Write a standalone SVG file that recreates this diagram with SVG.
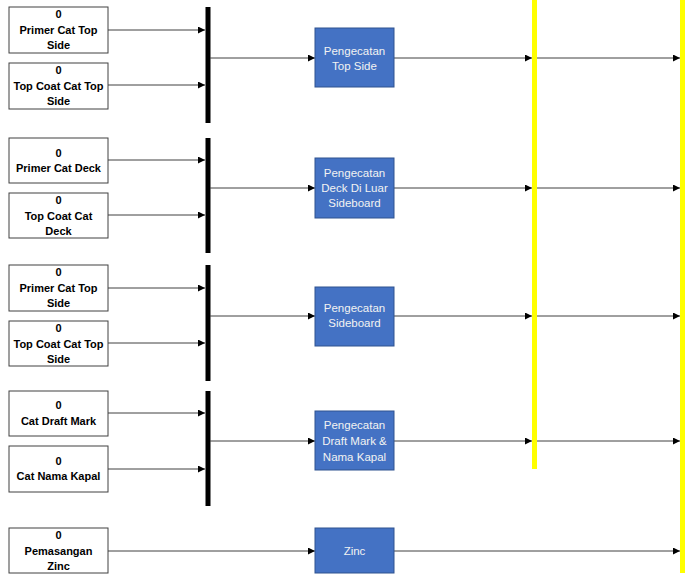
<svg xmlns="http://www.w3.org/2000/svg" width="691" height="583" viewBox="0 0 691 583">
<defs>
<style>
.box{fill:#fff;stroke:#404040;stroke-width:1}
.proc{fill:#4472C4;stroke:#2F528F;stroke-width:1}
.bar{fill:#000}
.yel{fill:#FFFF00}
.lt{font-family:"Liberation Sans",Arial,sans-serif;font-weight:bold;font-size:11px;fill:#000;text-anchor:middle}
.pt{font-family:"Liberation Sans",Arial,sans-serif;font-size:11.5px;fill:#F2F2F2;text-anchor:middle}
.con{stroke:#404040;stroke-width:1;fill:none;marker-end:url(#ah)}
</style>
<marker id="ah" viewBox="0 0 10 10" refX="10" refY="5" markerWidth="8" markerHeight="7" markerUnits="userSpaceOnUse" orient="auto">
<path d="M0,0 L10,5 L0,10 z" fill="#000"/>
</marker>
</defs>
<rect width="691" height="583" fill="#fff"/>

<g id="yellow-lines">
<rect class="yel" x="532" y="0" width="5" height="469"/>
<rect class="yel" x="680" y="0" width="5" height="573"/>
</g>

<g id="bars">
<rect class="bar" x="205.5" y="7" width="5" height="116"/>
<rect class="bar" x="205.5" y="138" width="5" height="115"/>
<rect class="bar" x="205.5" y="265" width="5" height="116"/>
<rect class="bar" x="205.5" y="391" width="5" height="115"/>
</g>

<g id="connectors">
<line class="con" x1="108" y1="30" x2="205" y2="30"/>
<line class="con" x1="108" y1="85" x2="205" y2="85"/>
<line class="con" x1="210" y1="58" x2="315" y2="58"/>
<line class="con" x1="394" y1="58" x2="532" y2="58"/>
<line class="con" x1="537" y1="58" x2="680" y2="58"/>

<line class="con" x1="108" y1="160" x2="205" y2="160"/>
<line class="con" x1="108" y1="215" x2="205" y2="215"/>
<line class="con" x1="210" y1="188" x2="315" y2="188"/>
<line class="con" x1="394" y1="188" x2="532" y2="188"/>
<line class="con" x1="537" y1="188" x2="680" y2="188"/>

<line class="con" x1="108" y1="288" x2="205" y2="288"/>
<line class="con" x1="108" y1="343" x2="205" y2="343"/>
<line class="con" x1="210" y1="316" x2="315" y2="316"/>
<line class="con" x1="394" y1="316" x2="532" y2="316"/>
<line class="con" x1="537" y1="316" x2="680" y2="316"/>

<line class="con" x1="108" y1="413" x2="205" y2="413"/>
<line class="con" x1="108" y1="469" x2="205" y2="469"/>
<line class="con" x1="210" y1="441" x2="315" y2="441"/>
<line class="con" x1="394" y1="441" x2="532" y2="441"/>
<line class="con" x1="537" y1="441" x2="680" y2="441"/>

<line class="con" x1="108" y1="551" x2="315" y2="551"/>
<line class="con" x1="394" y1="551" x2="680" y2="551"/>
</g>

<g id="n-primer-top-side-1">
<rect class="box" x="9" y="7" width="99" height="46"/>
<text class="lt" x="58.5" y="18">0</text>
<text class="lt" x="58.5" y="34">Primer Cat Top</text>
<text class="lt" x="58.5" y="49">Side</text>
</g>
<g id="n-topcoat-top-side-1">
<rect class="box" x="9" y="63" width="99" height="46"/>
<text class="lt" x="58.5" y="74">0</text>
<text class="lt" x="58.5" y="90">Top Coat Cat Top</text>
<text class="lt" x="58.5" y="105">Side</text>
</g>
<g id="n-primer-deck">
<rect class="box" x="9" y="138" width="99" height="45"/>
<text class="lt" x="58.5" y="157">0</text>
<text class="lt" x="58.5" y="172">Primer Cat Deck</text>
</g>
<g id="n-topcoat-deck">
<rect class="box" x="9" y="193" width="99" height="45"/>
<text class="lt" x="58.5" y="204">0</text>
<text class="lt" x="58.5" y="220">Top Coat Cat</text>
<text class="lt" x="58.5" y="235">Deck</text>
</g>
<g id="n-primer-top-side-2">
<rect class="box" x="9" y="265" width="99" height="46"/>
<text class="lt" x="58.5" y="276">0</text>
<text class="lt" x="58.5" y="292">Primer Cat Top</text>
<text class="lt" x="58.5" y="307">Side</text>
</g>
<g id="n-topcoat-top-side-2">
<rect class="box" x="9" y="321" width="99" height="45"/>
<text class="lt" x="58.5" y="332">0</text>
<text class="lt" x="58.5" y="348">Top Coat Cat Top</text>
<text class="lt" x="58.5" y="363">Side</text>
</g>
<g id="n-cat-draft-mark">
<rect class="box" x="9" y="391" width="99" height="45"/>
<text class="lt" x="58.5" y="409">0</text>
<text class="lt" x="58.5" y="425">Cat Draft Mark</text>
</g>
<g id="n-cat-nama-kapal">
<rect class="box" x="9" y="446" width="99" height="46"/>
<text class="lt" x="58.5" y="465">0</text>
<text class="lt" x="58.5" y="480">Cat Nama Kapal</text>
</g>
<g id="n-pemasangan-zinc">
<rect class="box" x="9" y="528" width="99" height="45"/>
<text class="lt" x="58.5" y="539">0</text>
<text class="lt" x="58.5" y="555">Pemasangan</text>
<text class="lt" x="58.5" y="570">Zinc</text>
</g>

<g id="p-top-side">
<rect class="proc" x="315" y="28" width="79" height="59"/>
<text class="pt" x="354.5" y="55">Pengecatan</text>
<text class="pt" x="354.5" y="70">Top Side</text>
</g>
<g id="p-deck">
<rect class="proc" x="315" y="158" width="79" height="60"/>
<text class="pt" x="354.5" y="177">Pengecatan</text>
<text class="pt" x="354.5" y="192">Deck Di Luar</text>
<text class="pt" x="354.5" y="207">Sideboard</text>
</g>
<g id="p-sideboard">
<rect class="proc" x="315" y="287" width="79" height="59"/>
<text class="pt" x="354.5" y="312">Pengecatan</text>
<text class="pt" x="354.5" y="327">Sideboard</text>
</g>
<g id="p-draft-mark">
<rect class="proc" x="315" y="411" width="79" height="59"/>
<text class="pt" x="354.5" y="429">Pengecatan</text>
<text class="pt" x="354.5" y="445">Draft Mark &amp;</text>
<text class="pt" x="354.5" y="461">Nama Kapal</text>
</g>
<g id="p-zinc">
<rect class="proc" x="315" y="528" width="79" height="45"/>
<text class="pt" x="354.5" y="555">Zinc</text>
</g>
</svg>
